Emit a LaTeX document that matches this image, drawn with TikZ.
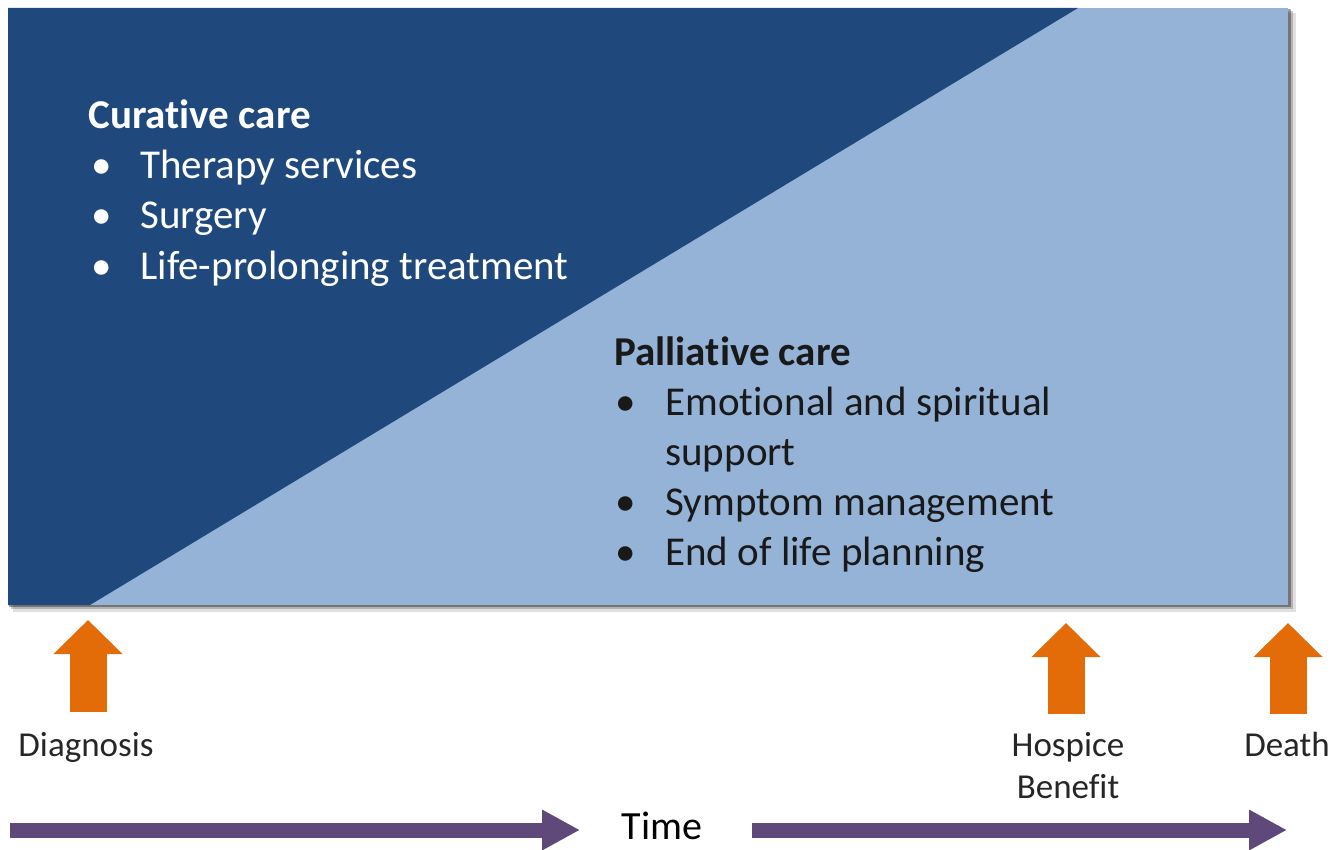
\documentclass[tikz,border=0pt]{standalone}
\usepackage{fontspec}
\setmainfont{Carlito}[Ligatures=NoCommon]
\usetikzlibrary{arrows.meta}
\definecolor{darkblue}{HTML}{1F497D}
\definecolor{lightblue}{HTML}{95B3D7}
\definecolor{orangeA}{HTML}{E36C09}
\definecolor{purpleA}{HTML}{5F497A}
\definecolor{labelgray}{HTML}{262626}
\tikzset{
  maintext/.style={anchor=base west, inner sep=0pt, font=\fontsize{20.5pt}{25pt}\selectfont},
  lighttext/.style={maintext, text=white},
  darktext/.style={maintext, text=black!90},
  bottomlabel/.style={anchor=base, inner sep=0pt, text=labelgray, font=\fontsize{17.5pt}{21pt}\selectfont},
  orangearrow/.style={draw=orangeA, line width=18.5pt, -{Triangle[length=17pt,width=33.5pt]}},
  timearrow/.style={draw=purpleA, line width=7.5pt, -{Triangle[length=19pt,width=19pt]}}
}
\begin{document}
\begin{tikzpicture}[x=0.5pt,y=-0.5pt]
\useasboundingbox (0,0) rectangle (1343,850);
% shadow
\fill[black, opacity=0.12] (13,13) rectangle (1296,612);
\fill[black, opacity=0.2] (11,11) rectangle (1293,609);
\fill[black, opacity=0.35] (9,9) rectangle (1291,607);
% panel
\fill[lightblue] (8,8) rectangle (1288,605);
\fill[darkblue] (8,8) -- (1078,8) -- (90,605) -- (8,605) -- cycle;

% curative text
\node[lighttext, font=\bfseries\fontsize{20.5pt}{25pt}\selectfont] (cur) at (88,129) {Curative care};
\node[lighttext] (cb1) at (91,179) {•};
\node[lighttext] (c1) at (140,179) {Therapy services};
\node[lighttext] (cb2) at (91,229) {•};
\node[lighttext] (c2) at (140,229) {Surgery};
\node[lighttext] (cb3) at (91,279) {•};
\node[lighttext] (c3) at (140,279) {Life-prolonging treatment};

% palliative text
\node[darktext, font=\bfseries\fontsize{20.5pt}{25pt}\selectfont] (pal) at (614,365) {Palliative care};
\node[darktext] (pb1) at (615,415) {•};
\node[darktext] (p1) at (665,415) {Emotional and spiritual};
\node[darktext] (p1b) at (665,465) {support};
\node[darktext] (pb2) at (615,515) {•};
\node[darktext] (p2) at (665,515) {Symptom management};
\node[darktext] (pb3) at (615,565) {•};
\node[darktext] (p3) at (665,565) {End of life planning};

% orange arrows
\coordinate (diagB) at (88,712);
\coordinate (diagT) at (88,620);
\coordinate (hospB) at (1066,714);
\coordinate (hospT) at (1066,623);
\coordinate (deathB) at (1288,714);
\coordinate (deathT) at (1288,623);
\draw[orangearrow] (diagB) -- (diagT);
\draw[orangearrow] (hospB) -- (hospT);
\draw[orangearrow] (deathB) -- (deathT);

\node[bottomlabel] (diag) at (86,756) {Diagnosis};
\node[bottomlabel] (hosp) at (1068,756) {Hospice};
\node[bottomlabel] (ben) at (1068,798) {Benefit};
\node[bottomlabel] (death) at (1287,756) {Death};

% time arrows
\coordinate (t1s) at (10,830);
\coordinate (t1e) at (580,830);
\coordinate (t2s) at (752,830);
\coordinate (t2e) at (1287,830);
\draw[timearrow] (t1s) -- (t1e);
\draw[timearrow] (t2s) -- (t2e);
\node[anchor=base, inner sep=0pt, text=black, font=\fontsize{20pt}{24pt}\selectfont] (time) at (662,839) {Time};
\end{tikzpicture}
\end{document}
